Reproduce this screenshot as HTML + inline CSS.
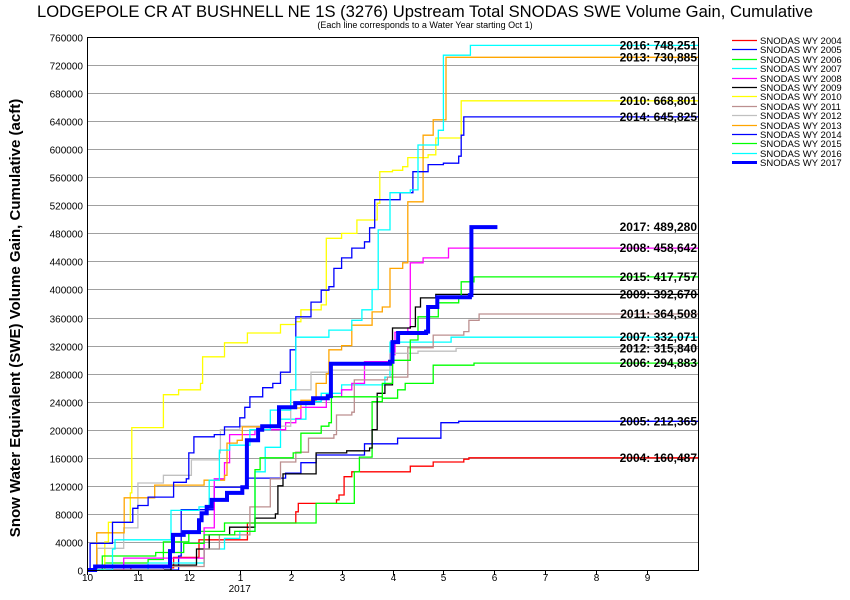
<!DOCTYPE html>
<html><head><meta charset="utf-8"><style>
body{margin:0;background:#fff;}
svg{display:block;font-family:"Liberation Sans",Arial,sans-serif;}
</style></head><body>
<svg id="chart" width="850" height="600" viewBox="0 0 850 600">
<text x="425" y="17" text-anchor="middle" font-size="16.6">LODGEPOLE CR AT BUSHNELL NE 1S (3276) Upstream Total SNODAS SWE Volume Gain, Cumulative</text>
<text x="425" y="28" text-anchor="middle" font-size="9">(Each line corresponds to a Water Year starting Oct 1)</text>
<text transform="translate(20,318) rotate(-90)" text-anchor="middle" font-size="15" font-weight="bold">Snow Water Equivalent (SWE) Volume Gain, Cumulative (acft)</text>
<g id="grid"></g><g id="series"></g><g id="labels"></g><g id="axes"></g><g id="legend"></g>
</svg>
<script>
const yTicks=[0,40000,80000,120000,160000,200000,240000,280000,320000,360000,400000,440000,480000,520000,560000,600000,640000,680000,720000,760000];
const monthLabels=["10","11","12","1","2","3","4","5","6","7","8","9"];
const seriesNames=["SNODAS WY 2004","SNODAS WY 2005","SNODAS WY 2006","SNODAS WY 2007","SNODAS WY 2008","SNODAS WY 2009","SNODAS WY 2010","SNODAS WY 2011","SNODAS WY 2012","SNODAS WY 2013","SNODAS WY 2014","SNODAS WY 2015","SNODAS WY 2016","SNODAS WY 2017"];
const seriesColors=["#ff0000","#0000ff","#00ff00","#00ffff","#ff00ff","#000000","#ffff00","#bc8f8f","#c0c0c0","#ffa500","#0000ff","#00ff00","#00ffff","#0000ff"];
const finalLabels=["2004: 160,487","2005: 212,365","2006: 294,883","2007: 332,071","2008: 458,642","2009: 392,670","2010: 668,801","2011: 364,508","2012: 315,840","2013: 730,885","2014: 645,825","2015: 417,757","2016: 748,251","2017: 489,280"];
// [months since Oct 1, thousand acft]
const wy2004=[[0,0],[0.85,0],[0.86,3],[1.68,3],[1.7,18],[2.2,43],[3.15,67],[4.1,83],[4.15,95],[4.9,100],[4.95,107],[5.05,133],[5.2,140],[6.35,148],[6.8,154],[7.4,158],[7.5,160],[12,160]];
const wy2005=[[0,0],[1.7,0],[1.8,20],[1.85,86],[2.4,86],[2.5,118],[3.1,118],[3.15,131],[3.9,138],[4.2,153],[4.5,164],[5.4,164],[5.45,180],[6.1,188],[6.9,188],[6.95,210],[7.3,212],[12,212]];
const wy2006=[[0,0],[0.3,0],[0.35,10],[1.2,15],[1.5,40],[2.0,55],[2.7,67],[4.2,67],[4.5,95],[5.2,95],[5.25,140],[5.35,161],[5.55,161],[5.6,240],[5.8,245],[6.1,257],[6.25,266],[6.75,266],[6.8,292],[7.6,295],[12,295]];
const wy2007=[[0,0],[0.8,0],[1.2,10],[2.3,30],[2.7,45],[3.0,55],[3.3,140],[3.5,175],[3.8,215],[4.3,240],[4.6,252],[5.0,264],[5.85,275],[5.95,325],[7.1,325],[7.15,332],[12,332]];
const wy2008=[[0,0],[0.7,0],[0.72,17],[2.2,17],[2.3,60],[2.5,130],[2.7,153],[2.8,193],[3.3,200],[3.9,210],[4.1,216],[4.2,232],[4.7,247],[5.0,257],[5.2,266],[5.45,297],[5.95,307],[6.05,339],[6.3,345],[6.35,438],[6.6,445],[7.05,445],[7.1,459],[12,459]];
const wy2009=[[0,0],[1.6,0],[1.65,7],[2.0,7],[2.15,30],[2.4,50],[2.8,61],[3.3,74],[3.7,80],[3.75,120],[3.85,137],[4.3,137],[4.5,167],[5.1,170],[5.55,174],[5.6,200],[5.7,252],[5.85,264],[6.0,345],[6.35,347],[6.45,375],[6.55,388],[6.85,393],[12,393]];
const wy2010=[[0,0],[0.28,0],[0.35,40],[0.42,68],[0.75,68],[0.85,110],[0.88,203],[1.4,203],[1.5,250],[1.8,257],[2.23,266],[2.27,304],[2.7,324],[3.15,338],[3.8,350],[4.1,354],[4.2,371],[4.6,378],[4.7,473],[5.0,480],[5.3,499],[5.7,523],[5.75,568],[6.0,570],[6.2,575],[6.3,588],[6.7,592],[6.85,616],[7.3,616],[7.35,669],[12,669]];
const wy2011=[[0,0],[1.4,0],[1.5,5],[2.3,30],[2.6,50],[3.2,90],[3.6,130],[3.8,154],[4.1,168],[4.35,188],[4.85,193],[4.9,221],[5.2,225],[5.25,271],[5.9,275],[6.3,317],[6.8,335],[7.4,340],[7.5,356],[7.7,365],[12,365]];
const wy2012=[[0,0],[0.15,0],[0.2,31],[0.7,31],[0.72,60],[1.0,124],[1.5,135],[2.0,135],[2.05,157],[2.6,167],[2.62,200],[3.0,205],[4.0,257],[4.4,282],[4.8,285],[5.95,309],[6.5,312],[7.25,316],[12,316]];
const wy2013=[[0,0],[0.15,0],[0.19,53],[0.71,53],[0.73,103],[1.3,103],[1.33,121],[2.3,128],[2.7,135],[2.75,181],[2.95,185],[3.05,204],[3.8,231],[4.2,242],[4.5,266],[4.7,280],[4.75,314],[5.0,320],[5.2,349],[5.6,368],[5.8,375],[5.95,430],[6.2,438],[6.3,525],[6.55,525],[6.6,620],[6.8,642],[7.0,642],[7.05,731],[12,731]];
const wy2014=[[0,0],[0.05,0],[0.06,38],[0.5,38],[0.5,68],[0.75,68],[0.9,88],[1.0,92],[1.2,104],[1.63,104],[1.7,125],[1.95,130],[2.0,167],[2.1,190],[2.5,193],[2.7,204],[3.0,217],[3.1,232],[3.2,247],[3.45,260],[3.65,266],[3.8,282],[3.99,314],[4.1,361],[4.4,382],[4.6,399],[4.75,404],[4.85,430],[5.0,445],[5.2,459],[5.45,468],[5.55,488],[5.65,528],[6.15,538],[6.35,538],[6.4,568],[6.7,578],[7.0,580],[7.3,590],[7.35,620],[7.4,646],[12,646]];
const wy2015=[[0,0],[0.25,0],[0.3,20],[1.3,20],[1.35,25],[1.9,38],[2.3,50],[2.9,55],[3.3,143],[3.4,160],[4.0,160],[4.05,167],[4.2,195],[4.6,205],[4.75,210],[4.8,247],[5.8,266],[6.0,299],[6.35,328],[6.5,361],[6.9,381],[7.3,389],[7.35,411],[7.6,418],[12,418]];
const wy2016=[[0,0],[0.4,0],[0.5,30],[0.55,43],[1.6,43],[1.65,85],[2.2,90],[2.4,128],[2.6,171],[2.8,178],[3.2,200],[3.6,228],[4.0,257],[4.1,332],[4.75,342],[5.2,356],[5.4,371],[5.6,400],[5.72,485],[5.95,538],[6.35,542],[6.5,606],[6.9,627],[7.0,734],[7.5,734],[7.53,748],[12,748]];
const wy2017=[[0,0],[0.16,5],[1.53,5],[1.63,27],[1.69,50],[1.89,50],[1.9,54],[2.14,54],[2.2,71],[2.25,81],[2.35,90],[2.45,100],[2.75,110],[3.05,118],[3.14,185],[3.36,200],[3.44,205],[3.77,232],[4.09,238],[4.44,245],[4.73,248],[4.79,294],[5.95,297],[6.0,325],[6.11,338],[6.66,340],[6.7,375],[6.88,389],[7.52,392],[7.55,489],[8.06,489]];
const allSeries=[wy2004,wy2005,wy2006,wy2007,wy2008,wy2009,wy2010,wy2011,wy2012,wy2013,wy2014,wy2015,wy2016,wy2017];

const L=87,R=698,T=37,B=570,NS="http://www.w3.org/2000/svg";
const xs=m=>L+m*(R-L)/12;
const ys=v=>B-v*(B-T)/760000;
function mk(tag,attrs,parent){const e=document.createElementNS(NS,tag);for(const k in attrs)e.setAttribute(k,attrs[k]);parent.appendChild(e);return e;}
const grid=document.getElementById('grid'),ser=document.getElementById('series'),lab=document.getElementById('labels'),ax=document.getElementById('axes'),leg=document.getElementById('legend');
yTicks.forEach(t=>{
  const y=Math.round(ys(t))+0.5;
  if(t>0){const g=mk('line',{x1:L,x2:R,y1:y,y2:y,stroke:'#a0a0a0','stroke-width':1},grid);
  
  }
  const tx=mk('text',{x:L-4,y:y+4,'text-anchor':'end','font-size':10},ax);
  tx.textContent=t;
  
  
});
allSeries.forEach((s,i)=>{
  let d='';
  s.forEach((p,j)=>{
    const X=xs(p[0]).toFixed(1),Y=ys(p[1]*1000).toFixed(1);
    if(!j)d+='M'+X+' '+Y;else d+='H'+X+'V'+Y;
  });
  const pth=mk('path',{d:d,fill:'none',stroke:seriesColors[i],'stroke-width':i===13?4:1.3},ser);
  
  
});
allSeries.forEach((s,i)=>{
  const last=s[s.length-1];
  const tx=mk('text',{x:697,y:ys(last[1]*1000)+4,'text-anchor':'end','font-size':12,'font-weight':'bold'},lab);
  tx.textContent=finalLabels[i];
  
  
});
mk('rect',{x:L+0.5,y:T+0.5,width:R-L,height:B-T,fill:'none',stroke:'#000','stroke-width':1},ax);
monthLabels.forEach((m,i)=>{
  const x=Math.round(xs(i))+0.5;
  const tk=mk('line',{x1:x,x2:x,y1:B,y2:B+5,stroke:'#000'},ax);
  
  
  const tx=mk('text',{x:x,y:B+11,'text-anchor':'middle','font-size':10},ax);
  tx.textContent=m;
  
  
});
const yr=mk('text',{x:xs(3),y:B+22,'text-anchor':'middle','font-size':10},ax);
yr.textContent='2017';


seriesNames.forEach((n,i)=>{
  const y=Math.round(40+i*9.4)+0.5;
  const ln=mk('line',{x1:732,x2:757,y1:y,y2:y,stroke:seriesColors[i],'stroke-width':i===13?3:1.3},leg);
  
  
  const tx=mk('text',{x:760,y:y+3.5,'font-size':9.5},leg);
  tx.textContent=n;
  
  
});
</script>
</body></html>
